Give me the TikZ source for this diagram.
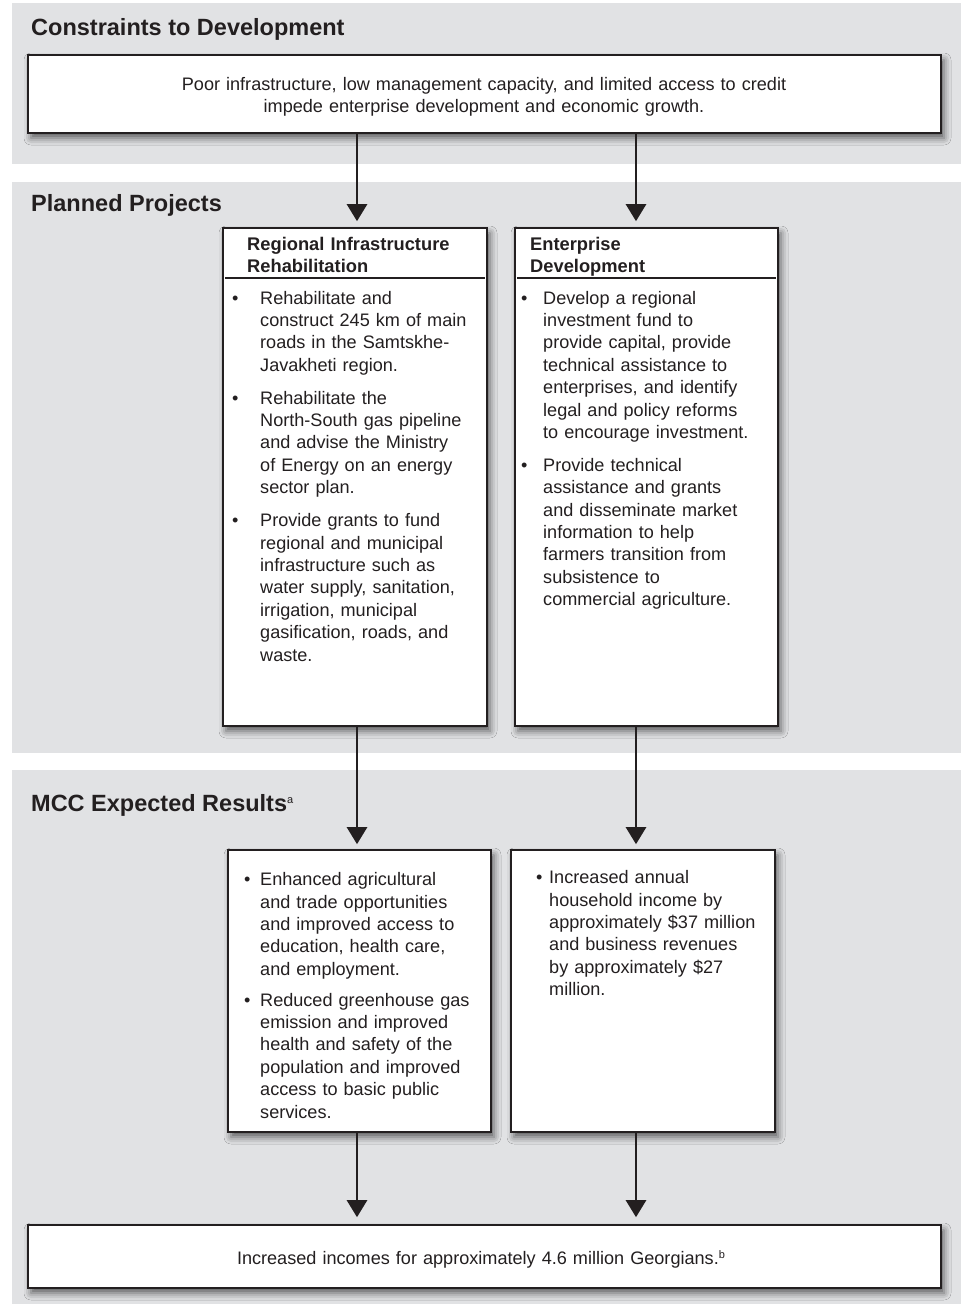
\documentclass[tikz,border=0pt]{standalone}
\usepackage{fontspec}
\setmainfont{Liberation Sans}
\usetikzlibrary{arrows.meta,shadows.blur}
\definecolor{band}{RGB}{225,226,228}
\definecolor{ink}{RGB}{35,31,32}
\newcommand\bodyfont{\fontsize{18.1pt}{22.4pt}\selectfont}
\newcommand\headfont{\fontsize{18.3pt}{21.5pt}\selectfont\bfseries}
\newcommand\titlefont{\fontsize{23.5pt}{28pt}\selectfont\bfseries}
% bullet paragraph: text indented by #1, bullet hangs in the margin
\newcommand\bul[2]{{\leftskip=#1\relax\noindent\llap{\makebox[#1][l]{\textbullet}}#2\par}}
\newcommand\gap[1]{\vspace{#1}}
\newcommand\supmark[1]{\raisebox{0.62ex}{\fontsize{11pt}{11pt}\selectfont\mdseries #1}}
\tikzset{
  box/.style={draw=ink, line width=1.6pt, fill=white,
    blur shadow={shadow xshift=3pt, shadow yshift=-5pt, shadow blur radius=7pt, shadow opacity=60}},
  sep/.style={draw=ink, line width=1.5pt},
  title/.style={font=\titlefont, text=ink, inner sep=0pt, anchor=base west},
  head/.style={font=\headfont, text=ink, inner sep=0pt, anchor=base west, align=left, text width=240pt},
  body/.style={font=\bodyfont, text=ink, inner sep=0pt, anchor=base west, align=left, text width=280pt},
  flow/.style={draw=ink, line width=2.6pt, -{Triangle[width=20pt,length=17pt]}}
}
\begin{document}
\begin{tikzpicture}[x=1pt,y=-1pt]
\useasboundingbox (0,0) rectangle (966,1304);
% background bands
\fill[band] (12,3) rectangle (961,164);
\fill[band] (12,182) rectangle (961,753);
\fill[band] (12,770) rectangle (961,1304);

% band titles
\node[title] (t1) at (31,35) {Constraints to Development};
\node[title] (t2) at (31,211) {Planned Projects};
\node[title] (t3) at (31,811) {MCC Expected Results\supmark{a}};

% boxes
\node[box, minimum width=913pt, minimum height=78pt] (top) at (484.5,94) {};
\node[box, minimum width=264pt, minimum height=498pt] (pl) at (355,477) {};
\node[box, minimum width=263pt, minimum height=498pt] (pr) at (646.5,477) {};
\node[box, minimum width=263pt, minimum height=282pt] (rl) at (359.5,991) {};
\node[box, minimum width=264pt, minimum height=282pt] (rr) at (643,991) {};
\node[box, minimum width=913pt, minimum height=63pt] (bot) at (484.5,1256.5) {};

% header rules
\draw[sep] (225,278) -- (485,278);
\draw[sep] (517,278) -- (776,278);

% texts
\node[body, text width=760pt, align=center, anchor=base] (toptxt) at (484,90)
  {Poor infrastructure, low management capacity, and limited access to credit\\
   impede enterprise development and economic growth.};

\node[head] (plh) at (247,250.5) {Regional Infrastructure\\Rehabilitation};
\node[head] (prh) at (530,250.5) {Enterprise\\Development};

\node[body] (plt) at (232,304) {%
  \bul{28pt}{Rehabilitate and\\construct 245 km of main\\roads in the Samtskhe-\\Javakheti region.}\gap{10.5pt}
  \bul{28pt}{Rehabilitate the\\North-South gas pipeline\\and advise the Ministry\\of Energy on an energy\\sector plan.}\gap{10.5pt}
  \bul{28pt}{Provide grants to fund\\regional and municipal\\infrastructure such as\\water supply, sanitation,\\irrigation, municipal\\gasification, roads, and\\waste.}};

\node[body] (prt) at (521,304) {%
  \bul{22pt}{Develop a regional\\investment fund to\\provide capital, provide\\technical assistance to\\enterprises, and identify\\legal and policy reforms\\to encourage investment.}\gap{10.5pt}
  \bul{22pt}{Provide technical\\assistance and grants\\and disseminate market\\information to help\\farmers transition from\\subsistence to\\commercial agriculture.}};

\node[body] (rlt) at (244,885.6) {%
  \bul{16pt}{Enhanced agricultural\\and trade opportunities\\and improved access to\\education, health care,\\and employment.}\gap{8.5pt}
  \bul{16pt}{Reduced greenhouse gas\\emission and improved\\health and safety of the\\population and improved\\access to basic public\\services.}};

\node[body] (rrt) at (536,883.6) {%
  \bul{13pt}{Increased annual\\household income by\\approximately \$37 million\\and business revenues\\by approximately \$27\\million.}};

\node[body, text width=760pt, align=center, anchor=base] (bottxt) at (481,1264.6)
  {Increased incomes for approximately 4.6 million Georgians.\supmark{b}};

% connector columns
\coordinate (cl) at (357,0);
\coordinate (cr) at (636,0);

% connectors
\draw[flow, shorten >=6pt] (top.south -| cl) -- (pl.north -| cl);
\draw[flow, shorten >=6pt] (top.south -| cr) -- (pr.north -| cr);
\draw[flow, shorten >=5pt] (pl.south -| cl) -- (rl.north -| cl);
\draw[flow, shorten >=5pt] (pr.south -| cr) -- (rr.north -| cr);
\draw[flow, shorten >=7pt] (rl.south -| cl) -- (bot.north -| cl);
\draw[flow, shorten >=7pt] (rr.south -| cr) -- (bot.north -| cr);
\end{tikzpicture}
\end{document}
